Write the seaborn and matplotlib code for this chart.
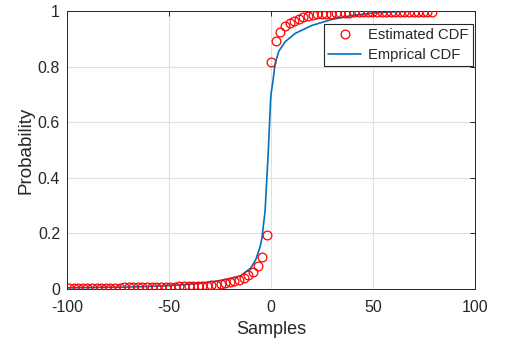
import matplotlib
matplotlib.use("Agg")
import matplotlib.pyplot as plt
import seaborn as sns
import pandas as pd

# Sample positions and the estimated CDF evaluated there
sample_x = [
    -99.0, -96.7, -94.5, -92.2, -90.0, -87.7, -85.5, -83.2, -81.0, -78.7,
    -76.5, -74.2, -72.0, -69.7, -67.5, -65.2, -63.0, -60.7, -58.4, -56.2,
    -53.9, -51.7, -49.4, -47.2, -44.9, -42.7, -40.4, -38.2, -35.9, -33.7,
    -31.4, -29.2, -26.9, -24.6, -22.4, -20.1, -17.9, -15.6, -13.4, -11.1,
    -8.9, -6.6, -4.4, -2.1, 0.1, 2.4, 4.6, 6.9, 9.1, 11.4,
    13.6, 15.9, 18.2, 20.4, 22.7, 24.9, 27.2, 29.4, 31.7, 33.9,
    36.2, 38.4, 40.7, 42.9, 45.2, 47.4, 49.7, 51.9, 54.2, 56.4,
    58.7, 60.9, 63.2, 65.4, 67.7, 69.9, 72.2, 74.4, 76.7, 79.0,
]
estimated_cdf = [
    0.004, 0.004, 0.004, 0.004, 0.004, 0.005, 0.005, 0.005, 0.005, 0.005,
    0.005, 0.005, 0.006, 0.006, 0.006, 0.006, 0.006, 0.007, 0.007, 0.007,
    0.007, 0.008, 0.008, 0.008, 0.009, 0.009, 0.010, 0.010, 0.011, 0.011,
    0.012, 0.013, 0.014, 0.017, 0.021, 0.024, 0.028, 0.033, 0.041, 0.050,
    0.062, 0.083, 0.116, 0.194, 0.815, 0.891, 0.924, 0.945, 0.957, 0.965,
    0.971, 0.977, 0.982, 0.985, 0.988, 0.989, 0.990, 0.991, 0.992, 0.993,
    0.994, 0.994, 0.995, 0.995, 0.995, 0.996, 0.996, 0.996, 0.996, 0.997,
    0.997, 0.997, 0.997, 0.997, 0.998, 0.998, 0.998, 0.998, 0.998, 0.998,
]

# Empirical CDF curve
ecdf_x = [-100, -90, -80, -70, -60, -50, -40, -35, -30, -25, -20, -15, -10,
          -7.5, -5.4, -4.5, -2.9, -1.3, -0.2, 0.0, 1.0, 2.0, 3.8, 7.0, 12.0,
          20.0, 30.0, 40.0, 50.0, 60.0, 70.0, 80.0]
ecdf_y = [0.004, 0.005, 0.006, 0.007, 0.009, 0.012, 0.017, 0.021, 0.025,
          0.030, 0.037, 0.047, 0.075, 0.105, 0.150, 0.180, 0.280, 0.500,
          0.680, 0.700, 0.750, 0.810, 0.855, 0.890, 0.920, 0.948, 0.970,
          0.984, 0.993, 0.997, 0.999, 1.000]

x_ticks = [-100, -50, 0, 50, 100]
y_ticks = [0, 0.2, 0.4, 0.6, 0.8, 1]
y_tick_labels = ["0", "0.2", "0.4", "0.6", "0.8", "1"]

sns.set_style("white")
plt.rcParams["font.family"] = ["Liberation Sans", "DejaVu Sans"]
plt.rcParams["axes.unicode_minus"] = False

ink = "#262626"
fig = plt.figure(figsize=(5.06, 3.43), dpi=100)
ax = fig.add_axes([67 / 506, 1 - 289 / 343, 408 / 506, 278 / 343])

est = pd.DataFrame({"x": sample_x, "y": estimated_cdf})
emp = pd.DataFrame({"x": ecdf_x, "y": ecdf_y})

sns.lineplot(data=est, x="x", y="y", ax=ax, linestyle="", marker="o",
             markersize=6.3, markerfacecolor="none", markeredgecolor="#ff0000",
             markeredgewidth=0.9, color="#ff0000", label="Estimated CDF",
             sort=False, estimator=None, zorder=3)
sns.lineplot(data=emp, x="x", y="y", ax=ax, color="#0072bd", linewidth=1.2,
             label="Emprical CDF", sort=False, estimator=None, zorder=2)

ax.set_xlim(-100, 100)
ax.set_ylim(0, 1)
ax.set_xticks(x_ticks)
ax.set_yticks(y_ticks)
ax.set_yticklabels(y_tick_labels)
ax.grid(True, color="#e0e0e0", linewidth=0.8)
ax.set_axisbelow(True)

for s in ax.spines.values():
    s.set_color(ink)
    s.set_linewidth(0.7)
ax.tick_params(direction="in", length=3.5, width=0.7, color=ink,
               labelcolor=ink, labelsize=11.5, top=True, right=True)
ax.tick_params(axis="x", pad=8)
ax.tick_params(axis="y", pad=5)

ax.set_xlabel("Samples", fontsize=13, color=ink, labelpad=4)
ax.set_ylabel("Probability", fontsize=13.5, color=ink, labelpad=2)

leg = ax.legend(loc="upper right", bbox_to_anchor=(0.995, 0.955),
                borderaxespad=0, fontsize=10.6, frameon=True, fancybox=False,
                framealpha=1, edgecolor=ink, handlelength=2.2,
                labelspacing=0.4, borderpad=0.3, handletextpad=0.5)
leg.get_frame().set_linewidth(0.8)
for t in leg.get_texts():
    t.set_color(ink)

fig.savefig("out.png", dpi=100)
